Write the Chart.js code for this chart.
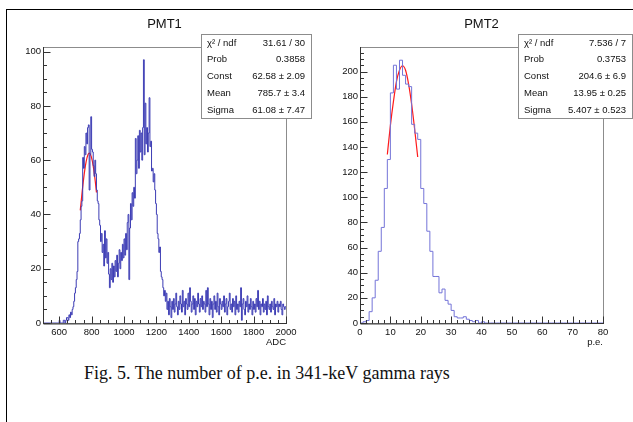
<!DOCTYPE html>
<html>
<head>
<meta charset="utf-8">
<script src="https://cdn.jsdelivr.net/npm/chart.js@4"></script>
<style>
  body { margin: 0; background: #fff; width: 633px; height: 422px; overflow: hidden; position: relative; }
  #frame { position: absolute; left: 6px; top: 9px; width: 640px; height: 430px; border-left: 1px solid #000; border-top: 1px solid #000; }
  canvas { position: absolute; top: 0; }
  #c1 { left: 0; }
  #c2 { left: 320px; }
  #caption { position: absolute; left: 0; top: 363px; width: 534px; text-align: center;
    font: 18px "Liberation Serif", "Times New Roman", serif; line-height: 20px; color: #111; }
</style>
</head>
<body>
<div id="frame"></div>
<canvas id="c1" width="320" height="360"></canvas>
<canvas id="c2" width="313" height="360"></canvas>
<div id="caption">Fig. 5. The number of p.e. in 341-keV gamma rays</div>
<script>
// PMT1: ADC histogram, 5 ADC per bin starting at 500
const adcStart = 500;
const adcBinWidth = 5;
const pmt1Counts = [
  0, 0, 0, 0, 0, 0, 0, 0, 0, 0, 0, 0, 0, 0, 0, 0, 0, 0, 0, 0,                 // 500-595
  1, 0, 0, 0, 0, 1, 1, 0, 1, 2, 2, 1, 3, 2, 4, 3, 5, 6, 8, 11,                // 600-695
  13, 16, 19, 30, 31, 33, 38, 43, 45, 61, 57, 65, 62, 70, 66, 72, 73, 49, 62, 76,   // 700-795
  64, 63, 58, 54, 60, 55, 49, 45, 44, 38, 36, 30, 33, 26, 29, 21, 34, 24, 31, 22,   // 800-895
  26, 18, 13, 20, 16, 22, 15, 21, 17, 23, 19, 25, 17, 22, 27, 20, 26, 23, 29, 24,   // 900-995
  31, 25, 33, 27, 37, 40, 16, 35, 44, 38, 48, 43, 50, 46, 68, 55, 60, 69, 57, 71,   // 1000-1095
  63, 70, 60, 72, 97, 62, 81, 66, 72, 63, 70, 83, 65, 67, 56, 57, 52, 55, 49, 44,   // 1100-1195
  40, 33, 31, 26, 28, 19, 17, 16, 13, 10, 12, 8, 11, 5, 8, 3, 9, 6, 2, 8,           // 1200-1295
  5, 9, 4, 7, 11, 6, 3, 8, 5, 10,  7, 4, 12, 6, 8, 3, 9, 7, 5, 11,                // 1300-1395
  6, 13, 8, 4, 7, 10, 5, 9, 3, 8,  6, 11, 7, 4, 9, 6, 10, 5, 8, 7,                // 1400-1495
  4, 12, 6, 13, 7, 3, 9, 5, 8, 2,  7, 10, 5, 8, 4, 11, 6, 3, 9, 7,                // 1500-1595
  5, 8, 6, 10, 4, 7, 9, 3, 6, 8,  11, 5, 7, 4, 9, 6, 8, 3, 10, 5,                 // 1600-1695
  7, 4, 8, 6, 13, 1, 7, 9, 5, 3,  8, 6, 10, 4, 7, 5, 9, 6, 3, 8,                  // 1700-1795
  5, 7, 4, 9, 6, 12, 5, 8, 3, 7,  6, 9, 4, 7, 5, 8, 3, 10, 6, 5,                  // 1800-1895
  7, 4, 8, 6, 5, 9, 3, 7, 6, 8,  4, 7, 6, 8, 5, 3, 7, 6, 5, 6                     // 1900-1995
];
// red gaussian fit curve
const pmt1FitAdc = [730, 742, 754, 766, 778, 786, 798, 810, 822, 830];
const pmt1FitVal = [41.5, 48.5, 54.7, 59.4, 62.1, 62.6, 61.3, 57.8, 52.5, 48.1];
const pmt1Stats = [["\u03c7\u00b2 / ndf", "31.61 / 30"], ["Prob", "0.3858"], ["Const", "62.58 \u00b1 2.09"],
                   ["Mean", "785.7 \u00b1 3.4"], ["Sigma", "61.08 \u00b1 7.47"]];
const pmt1XTicks = [600, 800, 1000, 1200, 1400, 1600, 1800, 2000];
const pmt1YTicks = [0, 20, 40, 60, 80, 100];

// PMT2: p.e. histogram, 1 p.e. per bin starting at 0
const peStart = 0;
const peBinWidth = 1;
const pmt2Counts = [
  0, 1, 2, 9, 20, 34, 57, 76, 107, 130,
  183, 205, 186, 209, 197, 190, 188, 158, 151, 146,
  107, 95, 73, 57, 37, 37, 24, 27, 18, 15,
  10, 5, 4, 4, 5, 3, 2, 1, 2, 0,
  1, 0, 0, 0, 0, 0, 0, 0, 0, 0,
  0, 0, 0, 0, 0, 0, 0, 0, 0, 0,
  0, 0, 0, 0, 0, 0, 0, 0, 0, 0,
  0, 0, 0, 0, 0, 0, 0, 0, 0, 0
];
const pmt2FitPe = [9, 10, 11, 12, 13, 14, 15, 16, 17, 18, 19];
const pmt2FitVal = [134, 157, 176, 192, 201, 204.6, 201, 190, 174, 154, 132];
const pmt2Stats = [["\u03c7\u00b2 / ndf", "7.536 / 7"], ["Prob", "0.3753"], ["Const", "204.6 \u00b1 6.9"],
                   ["Mean", "13.95 \u00b1 0.25"], ["Sigma", "5.407 \u00b1 0.523"]];
const pmt2XTicks = [0, 10, 20, 30, 40, 50, 60, 70, 80];
const pmt2YTicks = [0, 20, 40, 60, 80, 100, 120, 140, 160, 180, 200];

const FONT = '"Liberation Sans", Arial, Helvetica, sans-serif';

// histogram outline points: one per bin low edge, plus the last upper edge
function histPoints(start, width, counts) {
  const pts = counts.map((c, i) => ({ x: start + i * width, y: c }));
  pts.push({ x: start + counts.length * width, y: counts[counts.length - 1] });
  return pts;
}

// ROOT-like frame, inner ticks, title, axis label and stats box
const rootStyle = {
  id: 'rootStyle',
  afterDraw(chart, args, o) {
    const c = chart.ctx, a = chart.chartArea;
    const xs = chart.scales.x, ys = chart.scales.y;
    c.save();
    c.strokeStyle = '#8c8c8c';
    c.lineWidth = 1;
    c.strokeRect(a.left + 0.5, a.top + 0.5, a.right - a.left, a.bottom - a.top);

    c.strokeStyle = '#333';
    c.beginPath();
    for (let v = o.xMin; v <= o.xMax + 1e-9; v += o.xMinor) {
      const px = Math.round(xs.getPixelForValue(v)) + 0.5;
      const major = Math.abs(v / o.xMajor - Math.round(v / o.xMajor)) < 1e-6;
      c.moveTo(px, a.bottom + 0.5);
      c.lineTo(px, a.bottom + 0.5 - (major ? 7 : 3.5));
    }
    for (let v = 0; v <= ys.max + 1e-9; v += o.yMinor) {
      const py = Math.round(ys.getPixelForValue(v)) + 0.5;
      const major = Math.abs(v / o.yMajor - Math.round(v / o.yMajor)) < 1e-6;
      c.moveTo(a.left + 0.5, py);
      c.lineTo(a.left + 0.5 + (major ? 7 : 3.5), py);
    }
    c.stroke();
    c.beginPath();
    c.moveTo(a.left + 0.5, a.top); c.lineTo(a.left + 0.5, a.bottom + 1);
    c.lineTo(a.right + 1, a.bottom + 0.5);
    c.stroke();

    // title
    c.fillStyle = '#111';
    c.font = '13px ' + FONT;
    c.textAlign = 'center';
    c.textBaseline = 'middle';
    c.fillText(o.title, (a.left + a.right) / 2, 24.5);

    // axis label
    c.font = '9.5px ' + FONT;
    c.textAlign = 'right';
    c.fillText(o.xLabel, a.right, 342.5);

    // stats box
    const b = o.box;
    c.fillStyle = '#fff';
    c.fillRect(b.x, b.y, b.w, b.h);
    c.strokeStyle = '#8c8c8c';
    c.strokeRect(b.x + 0.5, b.y + 0.5, b.w, b.h);
    c.fillStyle = '#111';
    c.font = '9.5px ' + FONT;
    const rowH = b.h / o.stats.length;
    o.stats.forEach((row, i) => {
      const y = b.y + (i + 0.5) * rowH + 0.5;
      c.textAlign = 'left';
      c.fillText(row[0], b.x + 6, y);
      c.textAlign = 'right';
      c.fillText(row[1], b.x + b.w - 6, y);
    });
    c.restore();
  }
};

function makeChart(id, cfg) {
  return new Chart(document.getElementById(id), {
    type: 'line',
    data: {
      datasets: [
        {
          data: histPoints(cfg.start, cfg.width, cfg.counts),
          stepped: true,
          borderColor: cfg.color,
          borderWidth: 1,
          pointRadius: 0,
          fill: false
        },
        {
          data: cfg.fitX.map((x, i) => ({ x: x, y: cfg.fitY[i] })),
          borderColor: '#ff1a1a',
          borderWidth: 1.2,
          pointRadius: 0,
          cubicInterpolationMode: 'monotone',
          fill: false
        }
      ]
    },
    options: {
      responsive: false,
      animation: false,
      devicePixelRatio: 1,
      layout: { padding: { top: 47, right: cfg.padRight, left: 0, bottom: 0 } },
      plugins: {
        legend: { display: false },
        tooltip: { enabled: false },
        rootStyle: {
          title: cfg.title, xLabel: cfg.xLabel, stats: cfg.stats, box: cfg.box,
          xMin: cfg.xMin, xMax: cfg.xMax, xMajor: cfg.xMajor, xMinor: cfg.xMinor,
          yMajor: cfg.yMajor, yMinor: cfg.yMinor
        }
      },
      scales: {
        x: {
          type: 'linear',
          min: cfg.xMin,
          max: cfg.xMax,
          grid: { display: false, drawTicks: false },
          border: { display: false },
          afterBuildTicks: s => { s.ticks = cfg.xTicks.map(v => ({ value: v })); },
          afterFit: s => { s.height = 37; },
          ticks: { padding: 4, maxRotation: 0, autoSkip: false, color: '#111',
                   font: { family: FONT, size: 9.5 }, callback: v => String(v) }
        },
        y: {
          min: 0,
          max: cfg.yMax,
          grid: { display: false, drawTicks: false },
          border: { display: false },
          afterBuildTicks: s => { s.ticks = cfg.yTicks.map(v => ({ value: v })); },
          afterFit: s => { s.width = cfg.yWidth; },
          ticks: { padding: 2, autoSkip: false, color: '#111',
                   font: { family: FONT, size: 9.5 }, callback: v => String(v) }
        }
      }
    },
    plugins: [rootStyle]
  });
}

makeChart('c1', {
  start: adcStart, width: adcBinWidth, counts: pmt1Counts,
  fitX: pmt1FitAdc, fitY: pmt1FitVal, color: '#3c3cb4',
  title: 'PMT1', xLabel: 'ADC', stats: pmt1Stats,
  box: { x: 201, y: 34, w: 110, h: 84 },
  xMin: 500, xMax: 2000, xMajor: 200, xMinor: 50, xTicks: pmt1XTicks,
  yMax: 101.7, yMajor: 20, yMinor: 5, yTicks: pmt1YTicks,
  yWidth: 43, padRight: 34
});

makeChart('c2', {
  start: peStart, width: peBinWidth, counts: pmt2Counts,
  fitX: pmt2FitPe, fitY: pmt2FitVal, color: '#7474d8',
  title: 'PMT2', xLabel: 'p.e.', stats: pmt2Stats,
  box: { x: 198, y: 34, w: 114, h: 84 },
  xMin: 0, xMax: 80, xMajor: 10, xMinor: 2, xTicks: pmt2XTicks,
  yMax: 219.5, yMajor: 20, yMinor: 5, yTicks: pmt2YTicks,
  yWidth: 40, padRight: 30
});
</script>
</body>
</html>
